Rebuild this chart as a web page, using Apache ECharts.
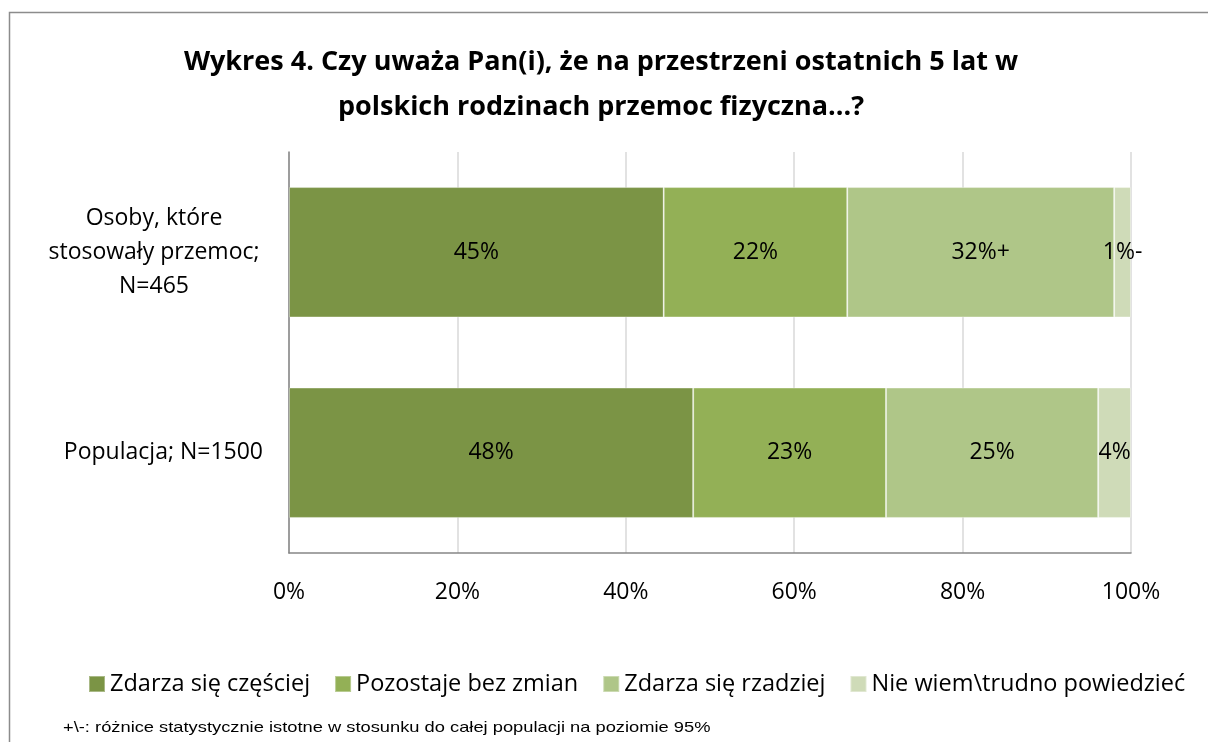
<!DOCTYPE html>
<html>
<head>
<meta charset="utf-8">
<script src="https://cdn.jsdelivr.net/npm/echarts@6/dist/echarts.min.js"></script>
<style>
	html, body { margin: 0; padding: 0; background: #fff; }
	#chart { width: 1208px; height: 742px; }
</style>
</head>
<body>
<div id="chart"></div>
<script>
	// kategorie (od góry)
	var categories = ['Osoby, które\nstosowały przemoc;\nN=465', 'Populacja; N=1500'];

	var seriesNames = ['Zdarza się częściej', 'Pozostaje bez zmian', 'Zdarza się rzadziej', 'Nie wiem\\trudno powiedzieć'];
	var czesciej = [44.5, 48.0];
	var bezZmian = [21.8, 22.9];
	var rzadziej = [31.7, 25.2];
	var nieWiem = [2.0, 3.9];

	// etykiety jak na wykresie
	var czesciejLabels = ['45%', '48%'];
	var bezZmianLabels = ['22%', '23%'];
	var rzadziejLabels = ['32%+', '25%'];
	var nieWiemLabels = ['1%-', '4%'];

	var xTicks = [0, 20, 40, 60, 80, 100];

	var colors = ['#7b9445', '#93b056', '#afc688', '#cfdbb8'];
	var font = '"Open Sans", sans-serif';

	function makeSeries(i, values, labels) {
		return {
			name: seriesNames[i],
			type: 'bar',
			stack: 'all',
			barWidth: '65%',
			data: values,
			itemStyle: {
				color: colors[i],
				borderColor: 'rgba(255,255,255,0.35)',
				borderWidth: 1
			},
			label: {
				show: true,
				position: 'inside',
				color: '#000',
				fontFamily: font,
				fontSize: 23,
				formatter: function (p) {
					return labels[p.dataIndex];
				}
			}
		};
	}

	var chart = echarts.init(document.getElementById('chart'));

	var option = {
		animation: false,
		backgroundColor: '#fff',
		color: colors,
		//tytuł
		title: {
			text: 'Wykres 4. Czy uważa Pan(i), że na przestrzeni ostatnich 5 lat w\npolskich rodzinach przemoc fizyczna...?',
			left: 596,
			top: 35,
			textAlign: 'center',
			textStyle: {
				fontFamily: font,
				fontWeight: 'bold',
				fontSize: 27,
				lineHeight: 45,
				color: '#000'
			}
		},
		grid: {
			left: 289,
			right: 77,
			top: 152,
			bottom: 189
		},
		//legenda
		legend: {
			left: 88,
			top: 672,
			width: 1115,
			padding: 0,
			icon: 'rect',
			itemWidth: 16,
			itemHeight: 16,
			itemGap: 24,
			textStyle: {
				fontFamily: font,
				fontSize: 23.5,
				color: '#000'
			},
			data: seriesNames
		},
		xAxis: {
			type: 'value',
			min: 0,
			max: 100,
			interval: 20,
			axisLine: {
				show: true,
				lineStyle: { color: '#868686', width: 1.5 }
			},
			axisTick: { show: false },
			splitLine: {
				show: true,
				lineStyle: { color: '#d9d9d9', width: 1.5 }
			},
			axisLabel: {
				margin: 28,
				fontFamily: font,
				fontSize: 23,
				color: '#000',
				formatter: function (v) {
					return xTicks.indexOf(v) >= 0 ? v + '%' : '';
				}
			}
		},
		yAxis: {
			type: 'category',
			inverse: true,
			data: categories,
			axisLine: {
				show: true,
				lineStyle: { color: '#868686', width: 1.5 }
			},
			axisTick: { show: false },
			axisLabel: {
				margin: 26,
				align: 'right',
				fontFamily: font,
				fontSize: 23,
				color: '#000',
				lineHeight: 34,
				formatter: function (v) {
					if (v.indexOf('\n') < 0) {
						return v;
					}
					return v.split('\n').map(function (s) {
						return '{c|' + s + '}';
					}).join('\n');
				},
				rich: {
					c: {
						width: 218,
						align: 'center',
						fontFamily: font,
						fontSize: 23,
						lineHeight: 34,
						color: '#000'
					}
				}
			}
		},
		graphic: [
			{
				type: 'rect',
				shape: { x: 9.5, y: 12.5, width: 1300, height: 800 },
				style: { fill: 'none', stroke: '#8c8c8c', lineWidth: 1.5 },
				silent: true
			},
			{
				type: 'text',
				x: 63,
				y: 720,
				scaleX: 1.22,
				style: {
					text: '+\\-: różnice statystycznie istotne w stosunku do całej populacji na poziomie 95%',
					fontFamily: '"Liberation Sans", Arial, sans-serif',
					fontSize: 15,
					fill: '#000'
				}
			}
		],
		series: [
			makeSeries(0, czesciej, czesciejLabels),
			makeSeries(1, bezZmian, bezZmianLabels),
			makeSeries(2, rzadziej, rzadziejLabels),
			makeSeries(3, nieWiem, nieWiemLabels)
		]
	};

	chart.setOption(option);
</script>
</body>
</html>
